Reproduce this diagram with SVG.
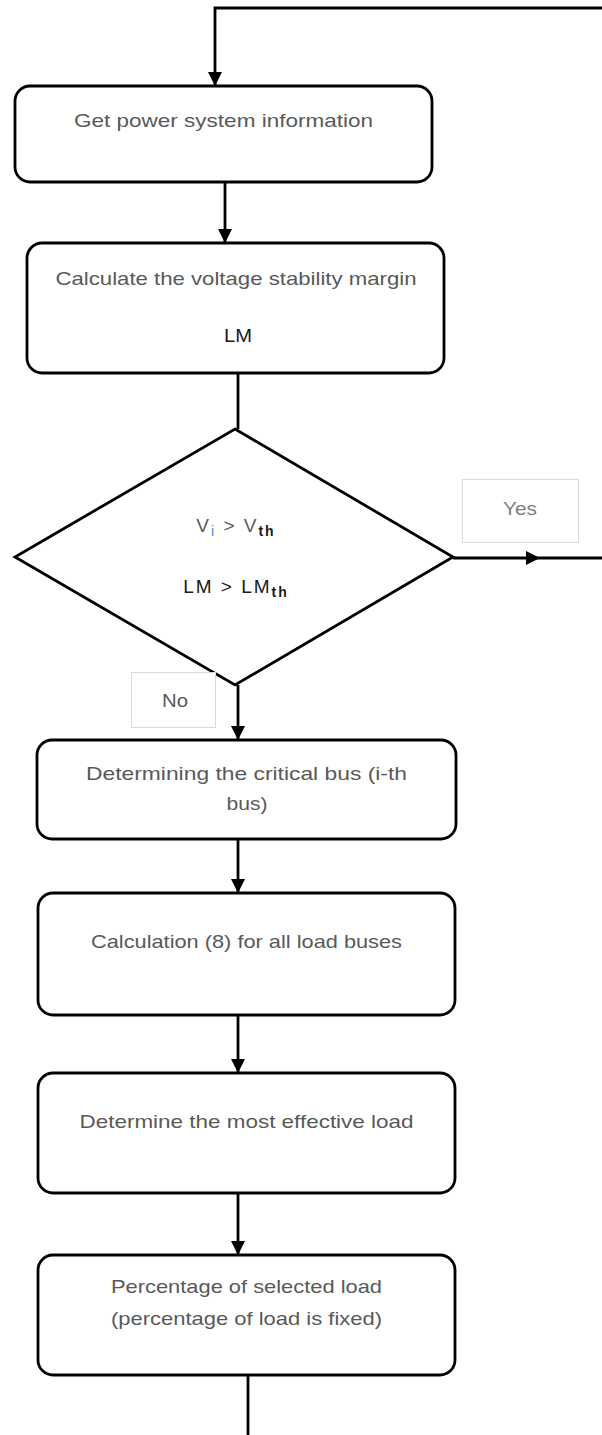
<svg xmlns="http://www.w3.org/2000/svg" width="602" height="1435" viewBox="0 0 602 1435">
  <defs>
    <marker id="ah" markerUnits="userSpaceOnUse" markerWidth="14" markerHeight="14" viewBox="0 0 14 14" refX="14" refY="7" orient="auto">
      <path d="M0,0 L14,7 L0,14 z" fill="#000"/>
    </marker>
    <style>
      .box { fill: #fff; stroke: #000; stroke-width: 2.8; }
      .lbl { fill: #fff; stroke: #d9d9d9; stroke-width: 1; }
      .conn { fill: none; stroke: #000; stroke-width: 2.8; }
      .t { font-family: "Liberation Sans", Arial, sans-serif; font-size: 19px; fill: #595959; text-anchor: middle; }
      .dk { fill: #1a1a1a; }
    </style>
  </defs>

  <g id="connectors">
    <path class="conn" d="M602,8 H215 V86" marker-end="url(#ah)"/>
    <path class="conn" d="M225,182 V243" marker-end="url(#ah)"/>
    <path class="conn" d="M238,373 V429"/>
    <polyline class="conn" points="453,558 540,558 602,558" marker-mid="url(#ah)"/>
    <path class="conn" d="M238,685 V740" marker-end="url(#ah)"/>
    <path class="conn" d="M238,839 V893" marker-end="url(#ah)"/>
    <path class="conn" d="M238,1015 V1073" marker-end="url(#ah)"/>
    <path class="conn" d="M238,1193 V1255" marker-end="url(#ah)"/>
    <path class="conn" d="M248,1375 V1435"/>
  </g>

  <g id="n1">
    <rect class="box" x="15" y="86" width="417" height="96" rx="15"/>
    <text class="t" x="223.5" y="127" textLength="299" lengthAdjust="spacingAndGlyphs">Get power system information</text>
  </g>

  <g id="n2">
    <rect class="box" x="27" y="243" width="417" height="130" rx="15"/>
    <text class="t" x="236" y="285" textLength="361" lengthAdjust="spacingAndGlyphs">Calculate the voltage stability margin</text>
    <text class="t dk" x="238" y="342" textLength="28" lengthAdjust="spacingAndGlyphs">LM</text>
  </g>

  <g id="n3">
    <polygon class="box" points="235,429 453,557 235,685 15,557"/>
    <text class="t" x="236" y="532" letter-spacing="2">V<tspan font-size="14" dy="4" fill="#3d8fd6">i</tspan><tspan dy="-4"> &gt; V</tspan><tspan font-size="14" dy="4" font-weight="bold" fill="#1a1a1a">th</tspan></text>
    <text class="t dk" x="236" y="593" letter-spacing="2">LM &gt; LM<tspan font-size="14" dy="4" font-weight="bold">th</tspan></text>
  </g>

  <g id="lbl-yes">
    <rect class="lbl" x="462.5" y="479.5" width="116" height="63"/>
    <text class="t" x="520" y="515" style="fill:#7f7f7f" textLength="34" lengthAdjust="spacingAndGlyphs">Yes</text>
  </g>

  <g id="lbl-no">
    <rect class="lbl" x="131.5" y="672.5" width="84" height="55"/>
    <text class="t" x="175" y="707" textLength="26" lengthAdjust="spacingAndGlyphs">No</text>
  </g>

  <g id="n4">
    <rect class="box" x="37" y="740" width="419" height="99" rx="15"/>
    <text class="t" x="246.5" y="780" textLength="321" lengthAdjust="spacingAndGlyphs">Determining the critical bus (i-th</text>
    <text class="t" x="247" y="810" textLength="41" lengthAdjust="spacingAndGlyphs">bus)</text>
  </g>

  <g id="n5">
    <rect class="box" x="38" y="893" width="417" height="122" rx="15"/>
    <text class="t" x="246.5" y="948" textLength="311" lengthAdjust="spacingAndGlyphs">Calculation (8) for all load buses</text>
  </g>

  <g id="n6">
    <rect class="box" x="38" y="1073" width="417" height="120" rx="15"/>
    <text class="t" x="246.5" y="1128" textLength="334" lengthAdjust="spacingAndGlyphs">Determine the most effective load</text>
  </g>

  <g id="n7">
    <rect class="box" x="38" y="1255" width="417" height="120" rx="15"/>
    <text class="t" x="246.5" y="1293" textLength="271" lengthAdjust="spacingAndGlyphs">Percentage of selected load</text>
    <text class="t" x="246.5" y="1325" textLength="271" lengthAdjust="spacingAndGlyphs">(percentage of load is fixed)</text>
  </g>
</svg>
